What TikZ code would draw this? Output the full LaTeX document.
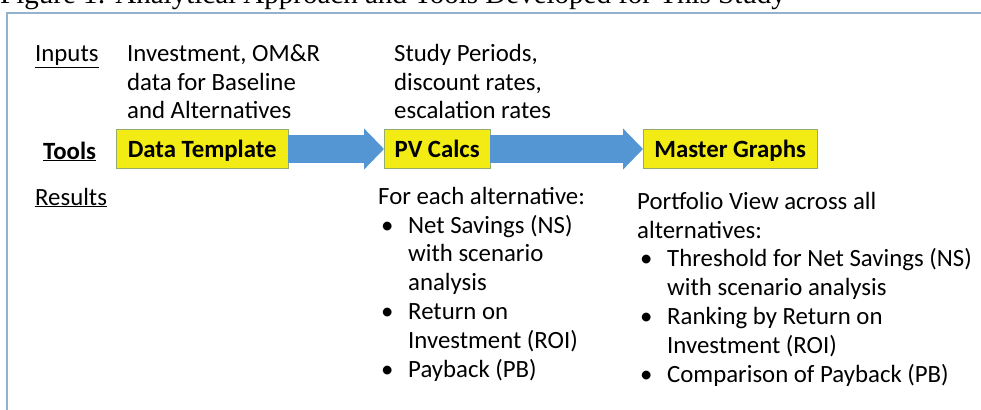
\documentclass[tikz,border=0pt]{standalone}
\usepackage{fontspec}
\setmainfont{Carlito}
\newfontfamily\capfont{Liberation Serif}
\usetikzlibrary{arrows.meta}
\definecolor{boxyellow}{RGB}{242,236,20}
\definecolor{boxedge}{RGB}{150,172,110}
\definecolor{arrowblue}{RGB}{84,150,212}
\definecolor{framecol}{RGB}{146,178,206}
\newcommand{\itm}[1]{\hspace*{3pt}\makebox[27pt][l]{\textbullet}#1}
\newcommand{\cnt}[1]{\hspace*{30pt}#1}

\begin{document}
\begin{tikzpicture}[x=1pt,y=-1pt,
	txt/.style={anchor=base west, inner sep=0pt, align=left, font=\fontsize{24.8}{28}\selectfont},
	res/.style={txt, font=\fontsize{24.8}{28.8}\selectfont},
	tool/.style={draw=boxedge, fill=boxyellow, anchor=west, inner sep=0pt, minimum height=39pt,
		text height=17pt, text depth=0pt, font=\fontsize{24.8}{28}\selectfont\bfseries},
	flow/.style={arrowblue, line width=28pt, -{Triangle[length=20pt,width=40pt]}}]
		\useasboundingbox (0,0) rectangle (981,409);
		% caption, cut by the page top
		\node[anchor=base west, inner sep=0pt, font=\fontsize{29}{33}\capfont] (cap) at (0,4) {Figure 1: Analytical Approach and Tools Developed for This Study};
		\draw[framecol, line width=2pt] (7,430) -- (7,13) -- (990,13);
		% row heads
		\node[txt] (inputs) at (35,62) {\underline{Inputs}};
		\node[txt, font=\fontsize{24.8}{28}\selectfont\bfseries] (tools) at (43,159) {\underline{Tools}};
		\node[txt] (results) at (35,205) {\underline{Results}};
		% inputs (base = last line)
		\node[txt] (invest) at (127,118) {Investment, OM\&R\\data for Baseline\\and Alternatives};
		\node[txt] (study) at (394,118) {Study Periods,\\discount rates,\\escalation rates};
		% tools
		\node[tool, minimum width=172pt] (dt) at (116,149) {Data Template};
		\node[tool, minimum width=106pt] (pv) at (384,149) {PV Calcs};
		\node[tool, minimum width=174pt] (mg) at (643,149) {Master Graphs};
		\draw[flow] (dt.east) -- (pv.west);
		\draw[flow] (pv.east) -- (mg.west);
		% results (base = last line)
		\node[res] (each) at (378,377) {For each alternative:\\
			\itm{Net Savings (NS)}\\ \cnt{with scenario}\\ \cnt{analysis}\\
			\itm{Return on}\\ \cnt{Investment (ROI)}\\
			\itm{Payback (PB)}};
		\node[res] (port) at (637,382) {Portfolio View across all\\alternatives:\\
			\itm{Threshold for Net Savings (NS)}\\ \cnt{with scenario analysis}\\
			\itm{Ranking by Return on}\\ \cnt{Investment (ROI)}\\
			\itm{Comparison of Payback (PB)}};
	\end{tikzpicture}
\end{document}
